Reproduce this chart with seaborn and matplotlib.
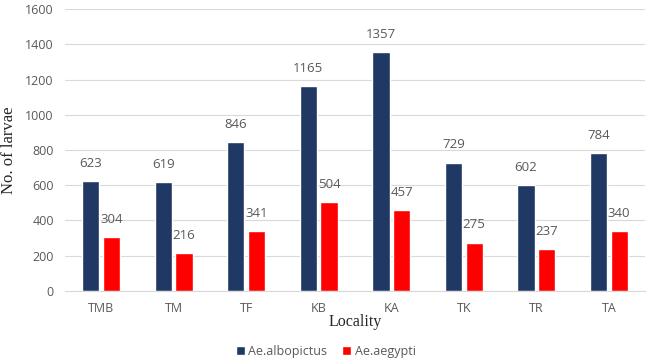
import pandas as pd
import matplotlib.pyplot as plt
import seaborn as sns

# данные с картинки
localities = ["TMB", "TM", "TF", "KB", "KA", "TK", "TR", "TA"]
albopictus = [623, 619, 846, 1165, 1357, 729, 602, 784]
aegypti = [304, 216, 341, 504, 457, 275, 237, 340]
species = ["Ae.albopictus", "Ae.aegypti"]
colors = ["#1f3864", "#ff0000"]

df = pd.DataFrame({
    "Locality": localities * 2,
    "Species": [species[0]] * len(localities) + [species[1]] * len(localities),
    "Count": albopictus + aegypti,
})

sns.set_style("white")
plt.rcParams["font.family"] = ["Open Sans", "DejaVu Sans"]

fig = plt.figure(figsize=(6.49, 3.61), dpi=100)
ax = fig.add_axes([0.1, 0.194, 0.894, 0.781])

sns.barplot(data=df, x="Locality", y="Count", hue="Species", palette=colors,
            width=0.57, gap=0.17, ax=ax, saturation=1)

for cont in ax.containers:
    ax.bar_label(cont, padding=8, fontsize=9.5, color="#595959")

ax.set_ylim(0, 1600)
ax.set_yticks(range(0, 1601, 200))
ax.yaxis.grid(True, color="#d9d9d9", linewidth=0.8)
ax.set_axisbelow(True)
for s in ["top", "right", "left"]:
    ax.spines[s].set_visible(False)
ax.spines["bottom"].set_color("#d9d9d9")
ax.tick_params(axis="both", length=0, labelsize=9, labelcolor="#595959", pad=8)

ax.set_xlabel("Locality", family="Liberation Serif", fontsize=11.5, labelpad=-1)
ax.set_ylabel("No. of larvae", family="Liberation Serif", fontsize=12, labelpad=6)

ax.legend(loc="upper center", bbox_to_anchor=(0.45, -0.15), ncol=2, frameon=False,
          fontsize=9, handlelength=0.7, handleheight=0.7, handletextpad=0.3,
          columnspacing=1.2, labelcolor="#595959")

plt.savefig("out.png", dpi=100)
